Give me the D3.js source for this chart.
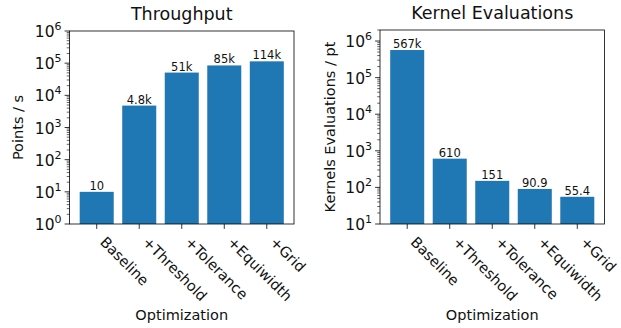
<!DOCTYPE html>
<html>
<head>
<meta charset="utf-8">
<script src="https://cdn.jsdelivr.net/npm/d3@7"></script>
<style>
  html, body { margin: 0; padding: 0; background: #fff; }
  svg { display: block; font-family: "DejaVu Sans", sans-serif; }
</style>
</head>
<body>
<svg id="chart" width="621" height="328"></svg>
<script>
// Optimization steps shared by both panels
const categories = ["Baseline", "+Threshold", "+Tolerance", "+Equiwidth", "+Grid"];

// Throughput (points per second)
const throughput = [10, 4800, 51000, 85000, 114000];
const throughputLabels = ["10", "4.8k", "51k", "85k", "114k"];

// Kernel evaluations per point
const kernelEvals = [567000, 610, 151, 90.9, 55.4];
const kernelLabels = ["567k", "610", "151", "90.9", "55.4"];

const throughputTicks = [0, 1, 2, 3, 4, 5, 6];   // exponents of 10
const kernelTicks = [1, 2, 3, 4, 5, 6];

const svg = d3.select("#chart");
const barColor = "#1f77b4";

function panel(opts) {
  const { left, right, top, bottom, yDomain, values, labels, ticks, title, ylabel, ylabelX } = opts;
  const g = svg.append("g");

  const x = d3.scaleLinear().domain([-0.64, categories.length - 1 + 0.64]).range([left, right]);
  const y = d3.scaleLog().domain(yDomain).range([bottom, top]);
  const barW = x(0.8) - x(0);

  // bars
  g.selectAll("rect.bar").data(values).join("rect")
    .attr("class", "bar")
    .attr("x", (d, i) => x(i) - barW / 2)
    .attr("width", barW)
    .attr("y", d => y(d))
    .attr("height", d => bottom - y(d))
    .attr("fill", barColor);

  // value labels above the bars
  g.selectAll("text.val").data(values).join("text")
    .attr("class", "val")
    .attr("x", (d, i) => x(i))
    .attr("y", d => y(d) - 2)
    .attr("text-anchor", "middle")
    .attr("font-size", 11.5)
    .attr("fill", "#111")
    .text((d, i) => labels[i]);

  // minor ticks on the log axis
  const [lo, hi] = yDomain;
  const minor = [];
  for (let e = Math.floor(Math.log10(lo)); e <= Math.ceil(Math.log10(hi)); e++) {
    for (let m = 2; m <= 9; m++) {
      const v = m * Math.pow(10, e);
      if (v >= lo && v <= hi) minor.push(v);
    }
  }
  g.selectAll("line.minor").data(minor).join("line")
    .attr("x1", left).attr("x2", left - 2.8)
    .attr("y1", d => y(d)).attr("y2", d => y(d))
    .attr("stroke", "#000").attr("stroke-width", 0.6);

  // major ticks with 10^n labels
  g.selectAll("line.major").data(ticks).join("line")
    .attr("x1", left).attr("x2", left - 4.9)
    .attr("y1", d => y(Math.pow(10, d))).attr("y2", d => y(Math.pow(10, d)))
    .attr("stroke", "#000").attr("stroke-width", 0.8);

  const tl = g.selectAll("text.ytick").data(ticks).join("text")
    .attr("class", "ytick")
    .attr("x", left - 8)
    .attr("y", d => y(Math.pow(10, d)) + 6)
    .attr("text-anchor", "end")
    .attr("font-size", 15.5)
    .attr("fill", "#111");
  tl.append("tspan").text("10");
  tl.append("tspan").attr("dy", -7).attr("font-size", 11).text(d => d);

  // x ticks and rotated category labels
  g.selectAll("line.xtick").data(categories).join("line")
    .attr("x1", (d, i) => x(i)).attr("x2", (d, i) => x(i))
    .attr("y1", bottom).attr("y2", bottom + 4.9)
    .attr("stroke", "#000").attr("stroke-width", 0.8);

  g.selectAll("text.xtick").data(categories).join("text")
    .attr("class", "xtick")
    .attr("transform", (d, i) => `translate(${x(i) + 2.5},${bottom + 19}) rotate(45)`)
    .attr("font-size", 14.5)
    .attr("fill", "#111")
    .text(d => d);

  // frame
  g.append("rect")
    .attr("x", left).attr("y", top)
    .attr("width", right - left).attr("height", bottom - top)
    .attr("fill", "none").attr("stroke", "#000").attr("stroke-width", 0.8);

  // title and axis labels
  g.append("text")
    .attr("x", (left + right) / 2).attr("y", top - 11)
    .attr("text-anchor", "middle").attr("font-size", 17.5).attr("fill", "#111")
    .text(title);

  g.append("text")
    .attr("x", (left + right) / 2).attr("y", 320)
    .attr("text-anchor", "middle").attr("font-size", 14.5).attr("fill", "#111")
    .text("Optimization");

  g.append("text")
    .attr("transform", `translate(${ylabelX},${(top + bottom) / 2}) rotate(-90)`)
    .attr("text-anchor", "middle").attr("font-size", 14.5).attr("fill", "#111")
    .text(ylabel);
}

panel({
  left: 69.5, right: 294, top: 31, bottom: 224,
  yDomain: [1, 1e6],
  values: throughput, labels: throughputLabels, ticks: throughputTicks,
  title: "Throughput", ylabel: "Points / s", ylabelX: 23
});

panel({
  left: 380, right: 604.5, top: 30, bottom: 224,
  yDomain: [10, 2.0e6],
  values: kernelEvals, labels: kernelLabels, ticks: kernelTicks,
  title: "Kernel Evaluations", ylabel: "Kernels Evaluations / pt", ylabelX: 335
});
</script>
</body>
</html>
